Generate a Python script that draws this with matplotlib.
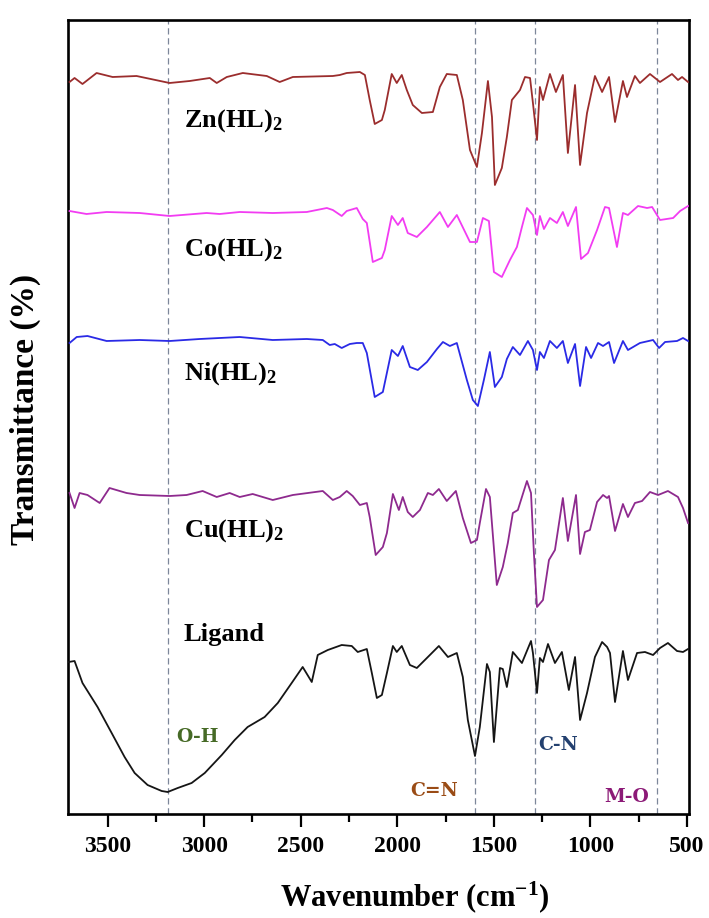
import matplotlib.pyplot as plt
import numpy as np

plt.rcParams['font.family'] = 'Liberation Serif'
plt.rcParams['font.weight'] = 'bold'
plt.rcParams['mathtext.fontset'] = 'custom'
plt.rcParams['mathtext.rm'] = 'Liberation Serif:bold'
plt.rcParams['mathtext.it'] = 'Liberation Serif:bold'
plt.rcParams['mathtext.bf'] = 'Liberation Serif:bold'

# FTIR spectra, stacked (wavenumber in cm-1, offset transmittance in a.u.)
zn_wn = [3697, 3671, 3630, 3557, 3474, 3350, 3179, 3075, 2971, 2935, 2883, 2800, 2676, 2609, 2541,
         2334, 2298, 2262, 2194, 2168, 2143, 2117, 2080, 2065, 2029, 2003, 1977, 1951, 1920, 1873,
         1816, 1780, 1744, 1692, 1661, 1624, 1588, 1562, 1531, 1510, 1495, 1459, 1433, 1407, 1365,
         1339, 1313, 1298, 1277, 1262, 1246, 1210, 1179, 1143, 1117, 1080, 1054, 1018, 977, 940,
         904, 873, 832, 811, 770, 744, 692, 640, 578, 547, 526, 495]
zn_t = [732, 736, 730, 741, 737, 738, 731, 733, 736, 731, 737, 741, 738, 732, 737,
        738, 739, 741, 742, 739, 714, 690, 694, 704, 740, 731, 739, 724, 709, 701,
        702, 727, 740, 739, 714, 664, 647, 681, 733, 697, 629, 646, 677, 714, 724,
        737, 736, 711, 674, 727, 714, 740, 722, 739, 661, 729, 649, 701, 738, 722,
        737, 692, 733, 717, 738, 731, 740, 732, 740, 734, 737, 732]

co_wn = [3697, 3609, 3505, 3334, 3179, 2987, 2920, 2816, 2645, 2469, 2365, 2334, 2288, 2262, 2210,
         2179, 2158, 2127, 2080, 2065, 2029, 1997, 1972, 1946, 1899, 1847, 1780, 1738, 1692, 1624,
         1588, 1557, 1526, 1500, 1459, 1417, 1381, 1355, 1329, 1298, 1277, 1262, 1241, 1210, 1174,
         1143, 1117, 1075, 1049, 1013, 966, 925, 904, 863, 832, 806, 754, 707, 681, 640,
         572, 536, 495]
co_t = [603, 600, 602, 601, 598, 601, 600, 602, 601, 602, 606, 604, 598, 603, 606,
        595, 591, 552, 556, 564, 598, 589, 596, 581, 577, 587, 602, 587, 599, 572,
        572, 596, 593, 542, 537, 554, 567, 587, 606, 599, 579, 598, 585, 596, 591,
        602, 588, 607, 555, 561, 584, 607, 606, 567, 601, 599, 608, 606, 607, 594,
        596, 603, 608]

ni_wn = [3697, 3660, 3604, 3505, 3334, 3179, 3023, 2816, 2645, 2469, 2386, 2350, 2324, 2288, 2246,
         2210, 2179, 2158, 2117, 2075, 2029, 1997, 1972, 1935, 1894, 1847, 1795, 1764, 1728, 1692,
         1640, 1609, 1583, 1552, 1521, 1495, 1459, 1433, 1402, 1365, 1324, 1298, 1277, 1262, 1241,
         1210, 1174, 1143, 1117, 1080, 1054, 1023, 997, 961, 935, 904, 878, 832, 806, 744,
         676, 645, 614, 552, 521, 495]
ni_t = [471, 477, 478, 473, 474, 473, 475, 477, 474, 475, 474, 469, 470, 466, 470,
        471, 471, 461, 417, 422, 464, 458, 468, 447, 444, 452, 465, 472, 468, 471,
        434, 414, 408, 434, 462, 427, 437, 455, 467, 459, 473, 464, 444, 462, 456,
        473, 466, 473, 451, 470, 428, 467, 456, 471, 468, 472, 451, 473, 464, 471,
        474, 466, 472, 473, 476, 473]

cu_wn = [3697, 3671, 3645, 3604, 3541, 3490, 3402, 3334, 3179, 3091, 3008, 2935, 2868, 2816, 2749,
         2645, 2541, 2386, 2334, 2298, 2262, 2231, 2194, 2158, 2143, 2112, 2075, 2054, 2023, 1992,
         1972, 1946, 1920, 1883, 1842, 1816, 1785, 1744, 1697, 1661, 1619, 1588, 1573, 1541, 1521,
         1485, 1454, 1428, 1402, 1376, 1329, 1308, 1293, 1277, 1246, 1215, 1184, 1143, 1117, 1075,
         1054, 1029, 1003, 966, 935, 914, 904, 873, 832, 806, 770, 733, 692, 650, 599,
         547, 521, 495]
cu_t = [321, 306, 321, 319, 311, 326, 321, 319, 318, 319, 323, 317, 321, 317, 320,
        314, 319, 323, 314, 317, 323, 318, 309, 311, 297, 259, 267, 281, 320, 304,
        317, 302, 297, 304, 321, 319, 325, 313, 323, 296, 271, 274, 291, 325, 317,
        229, 247, 271, 301, 304, 333, 321, 261, 207, 214, 254, 264, 316, 273, 319,
        260, 282, 284, 312, 319, 316, 318, 283, 310, 297, 311, 313, 322, 319, 323,
        317, 306, 291]

lig_wn = [3702, 3671, 3630, 3552, 3479, 3412, 3360, 3293, 3220, 3189, 3137, 3065, 2997, 2909, 2842,
          2775, 2687, 2619, 2547, 2490, 2443, 2412, 2360, 2288, 2236, 2205, 2158, 2132, 2106, 2080,
          2054, 2023, 2003, 1977, 1935, 1899, 1847, 1785, 1738, 1692, 1661, 1635, 1598, 1573, 1536,
          1521, 1500, 1469, 1454, 1433, 1402, 1355, 1308, 1298, 1277, 1262, 1246, 1220, 1184, 1148,
          1112, 1080, 1054, 1018, 977, 940, 914, 899, 873, 832, 806, 759, 718, 676, 640,
          599, 552, 521, 495]
lig_t = [152, 153, 131, 107, 81, 57, 41, 29, 23, 22, 26, 31, 41, 59, 74,
         87, 97, 111, 131, 147, 132, 159, 164, 169, 168, 162, 165, 141, 116, 119,
         141, 168, 162, 168, 149, 146, 156, 168, 157, 161, 137, 94, 58, 87, 150,
         142, 72, 146, 145, 127, 162, 151, 173, 161, 121, 156, 152, 170, 151, 162,
         124, 157, 94, 121, 157, 172, 167, 161, 112, 163, 134, 161, 162, 159, 166,
         171, 163, 162, 165]

series = [
    (zn_wn, zn_t, '#9b2d2d', r'Zn(HL)$_{2}$', 687),
    (co_wn, co_t, '#f23cf2', r'Co(HL)$_{2}$', 558),
    (ni_wn, ni_t, '#2a2ae6', r'Ni(HL)$_{2}$', 434),
    (cu_wn, cu_t, '#8e2a8e', r'Cu(HL)$_{2}$', 277),
    (lig_wn, lig_t, '#151515', 'Ligand', 173),
]

# marker bands: position, label, label x, label y, colour
bands_wn = [3189, 1600, 1285, 655]
band_names = ['O-H', 'C=N', 'C-N', 'M-O']
band_label_x = [3147, 1935, 1272, 930]
band_label_y = [72, 18, 64, 12]
band_colors = ['#466a26', '#9a4c16', '#23406f', '#8c1a77']

fig = plt.figure(figsize=(7.09, 9.18), dpi=100)
ax = fig.add_axes([68 / 709, 1 - 814 / 918, 621 / 709, 794 / 918])

for wn in bands_wn:
    ax.axvline(wn, color='#7d879a', lw=0.9, ls=(0, (5, 3)), zorder=1)

for wn, t, c, name, ylab in series:
    ax.plot(wn, t, color=c, lw=1.3, zorder=3)
    ax.text(3106, ylab, name, fontsize=19, fontweight='bold', ha='left', va='baseline')

for name, x, y, c in zip(band_names, band_label_x, band_label_y, band_colors):
    ax.text(x, y, name, fontsize=13.5, fontweight='bold', color=c, family='DejaVu Serif',
            ha='left', va='baseline')

ax.set_xlim(3705, 490)
ax.set_ylim(0, 794)
ax.set_yticks([])
ax.set_xticks([3500, 3000, 2500, 2000, 1500, 1000, 500])
ax.set_xticks(np.arange(750, 3500, 500), minor=True)
ax.tick_params(axis='x', which='major', length=9.5, width=1.6, labelsize=17, pad=6)
ax.tick_params(axis='x', which='minor', length=6, width=1.6)
for lab in ax.get_xticklabels():
    lab.set_fontweight('bold')
for sp in ax.spines.values():
    sp.set_linewidth(1.9)

ax.set_ylabel('Transmittance (%)', fontsize=24, fontweight='bold')
ax.yaxis.set_label_coords(-0.044, 0.51)
fig.text(415 / 709, 1 - 897 / 918, 'Wavenumber (cm$^{-1}$)', fontsize=22, fontweight='bold',
         ha='center', va='center')

plt.savefig('out.png', dpi=100)
